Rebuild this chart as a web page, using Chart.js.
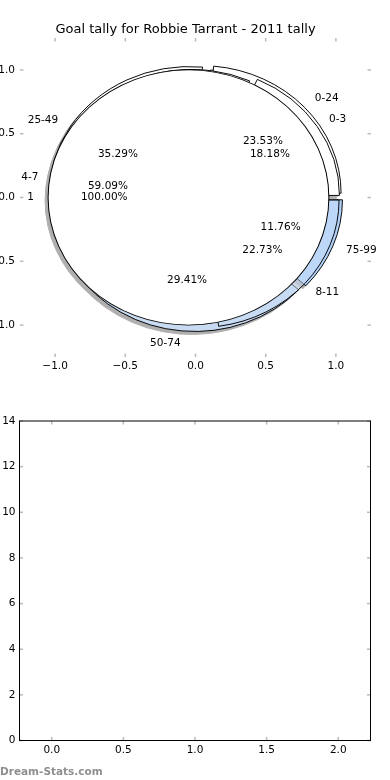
<!DOCTYPE html>
<html><head><meta charset="utf-8">
<script src="https://cdn.jsdelivr.net/npm/chart.js@4.4.0/dist/chart.umd.min.js"></script>
<style>
html,body{margin:0;padding:0;background:#fff;}
#page{position:relative;width:390px;height:780px;overflow:hidden;background:#fff;}
#pieLayer{position:absolute;left:0;top:0;width:390px;height:400px;z-index:1;filter:drop-shadow(-3px 3px 0 rgba(77,77,77,0.45));}
#pieTop{position:absolute;left:0;top:0;width:390px;height:400px;z-index:2;}
#bottom{position:absolute;left:0;top:400px;width:390px;height:380px;}
#wm{position:absolute;left:0;top:765px;font:bold 10.5px 'DejaVu Sans';line-height:12px;color:#8f8f8f;white-space:nowrap;}
</style></head><body>
<div id="page">
  <div id="pieLayer"></div>
  <canvas id="pieTop" width="390" height="400"></canvas>
  <canvas id="bottom" width="390" height="380"></canvas>
  <div id="wm">Dream-Stats.com</div>
</div>
<script>
// ---- data ----
const titleText = 'Goal tally for Robbie Tarrant - 2011 tally';
const rangeLabels = ['0-24', '25-49', '50-74', '75-99'];
const rangeGoals = [4, 6, 5, 2];
const smallLabels = ['0-3', '4-7', '8-11'];
const smallGoals = [4, 13, 5];
const allLabels = ['1'];
const allGoals = [1];
const pieTicks = [-1, -0.5, 0, 0.5, 1];
const barXTicks = [0, 0.5, 1, 1.5, 2];
const barYTicks = [0, 2, 4, 6, 8, 10, 12, 14];
const barValues = [];

// ---- styles ----
const pieStyles = [
  {labels: rangeLabels, values: rangeGoals, colors: ['#ffffff', '#ffffff', '#c8dbf3', '#b3d3fb'], explode: 0.05},
  {labels: smallLabels, values: smallGoals, colors: ['#ffffff', '#ffffff', 'rgba(200,220,246,0.5)'], explode: 0.03},
  {labels: allLabels, values: allGoals, colors: ['#ffffff'], explode: 0.05}
];

Chart.defaults.font.family = "'DejaVu Sans', sans-serif";
Chart.defaults.color = '#000';

const fmt1 = v => (v < 0 ? '\u2212' : '') + Math.abs(v).toFixed(1);

function midAngles(values) {
  const total = values.reduce((a, b) => a + b, 0);
  let acc = 0;
  return values.map(v => {
    const t1 = acc / total * 2 * Math.PI; acc += v;
    const t2 = acc / total * 2 * Math.PI;
    return (t1 + t2) / 2;
  });
}

const tickMarks = {
  id: 'tickMarks',
  afterDraw(chart, args, opts) {
    const {ctx, chartArea: a, scales: {x, y}} = chart;
    const L = 3.5;
    ctx.save();
    ctx.strokeStyle = '#bbbbbb';
    ctx.lineWidth = 1.5;
    const seg = (x1, y1, x2, y2) => { ctx.beginPath(); ctx.moveTo(x1, y1); ctx.lineTo(x2, y2); ctx.stroke(); };
    x.ticks.forEach(t => { const p = x.getPixelForValue(t.value); seg(p, a.top, p, a.top + L); seg(p, a.bottom, p, a.bottom - L); });
    y.ticks.forEach(t => { const p = y.getPixelForValue(t.value); seg(a.left, p, a.left + L, p); seg(a.right, p, a.right - L, p); });
    if (opts && opts.frame) {
      ctx.strokeStyle = '#000'; ctx.lineWidth = 1;
      ctx.strokeRect(a.left, a.top, a.right - a.left, a.bottom - a.top);
    }
    ctx.restore();
  }
};

const pieLabels = {
  id: 'pieLabels',
  afterDraw(chart) {
    const {ctx, scales: {x, y}} = chart;
    ctx.save();
    ctx.fillStyle = '#000';
    ctx.font = "10.5px 'DejaVu Sans'";
    ctx.textBaseline = 'middle';
    pieStyles.forEach(p => {
      const total = p.values.reduce((a, b) => a + b, 0);
      const mids = midAngles(p.values);
      p.values.forEach((v, i) => {
        const c = Math.cos(mids[i]), s = Math.sin(mids[i]);
        const lr = p.explode + 1.1, pr = p.explode + 0.6;
        ctx.textAlign = lr * c > 0 ? 'left' : 'right';
        ctx.fillText(p.labels[i], x.getPixelForValue(lr * c), y.getPixelForValue(lr * s));
        ctx.textAlign = 'center';
        ctx.fillText((v / total * 100).toFixed(2) + '%', x.getPixelForValue(pr * c), y.getPixelForValue(pr * s));
      });
    });
    ctx.restore();
  }
};

const topChart = new Chart(document.getElementById('pieTop'), {
  type: 'scatter',
  data: {datasets: [{data: []}]},
  options: {
    responsive: false, animation: false, events: [],
    layout: {padding: {left: 0, right: 19, top: 0, bottom: 0}},
    plugins: {
      legend: {display: false}, tooltip: {enabled: false},
      title: {display: true, text: titleText, color: '#000', font: {size: 13, weight: 'normal'}, padding: {top: 22, bottom: 0.4}},
      tickMarks: {frame: false}
    },
    scales: {
      x: {type: 'linear', min: -1.25, max: 1.25,
          afterBuildTicks: s => { s.ticks = pieTicks.map(v => ({value: v})); },
          afterFit: s => { s.height = 43; },
          grid: {display: false, drawTicks: false}, border: {display: false},
          ticks: {callback: fmt1, padding: 3, font: {size: 10.5}, maxRotation: 0, autoSkip: false}},
      y: {type: 'linear', min: -1.25, max: 1.25,
          afterBuildTicks: s => { s.ticks = pieTicks.map(v => ({value: v})); },
          afterFit: s => { s.width = 20; },
          grid: {display: false, drawTicks: false}, border: {display: false},
          ticks: {callback: fmt1, padding: 5, font: {size: 10.5}, autoSkip: false}}
    }
  },
  plugins: [tickMarks, pieLabels]
});

// ---- pies: each wedge drawn by a Chart.js pie, exploded along its mid-angle ----
const xs = topChart.scales.x, ys = topChart.scales.y;
const cx = xs.getPixelForValue(0), cy = ys.getPixelForValue(0);
const R = xs.getPixelForValue(1) - cx;
const Ry = cy - ys.getPixelForValue(1);
const layer = document.getElementById('pieLayer');
const S = Math.ceil(2 * R + 40);

// squashes each pie vertically so one data unit matches the axes (matplotlib's unequal aspect)
const ellipse = {
  id: 'ellipse',
  beforeDatasetsDraw(chart, args, o) {
    const c = chart.ctx, a = chart.chartArea;
    const mid = (a.top + a.bottom) / 2;
    c.save();
    c.translate(o.fx, o.fy + mid);
    c.scale(1, o.k);
    c.translate(0, -mid);
  },
  afterDatasetsDraw(chart) { chart.ctx.restore(); }
};

function addCanvas(px, py) {
  const left = Math.floor(px - S / 2), top = Math.floor(py - S / 2);
  const cv = document.createElement('canvas');
  cv.style.cssText = 'position:absolute;left:' + left + 'px;top:' + top + 'px;width:' + S + 'px;height:' + S + 'px;';
  cv.width = S; cv.height = S;
  layer.appendChild(cv);
  return {cv, fx: px - S / 2 - left, fy: py - S / 2 - top};
}
function pieOpts(r, extra, pos) {
  return Object.assign({
    responsive: false, animation: false, events: [], rotation: 90, radius: r,
    layout: {padding: 0},
    plugins: {legend: {display: false}, tooltip: {enabled: false}, title: {display: false},
              ellipse: {k: Ry / R, fx: pos.fx, fy: pos.fy}}
  }, extra || {});
}

pieStyles.forEach(p => {
  const mids = midAngles(p.values);
  const total = p.values.reduce((a, b) => a + b, 0);
  const n = p.values.length;
  const order = p.values.map((_, k) => n - 1 - k);
  p.values.forEach((v, i) => {
    const px = cx + p.explode * R * Math.cos(mids[i]);
    const py = cy - p.explode * Ry * Math.sin(mids[i]);
    const full = v === total;
    const pos = addCanvas(px, py);
    new Chart(pos.cv, {
      type: 'pie',
      data: {
        labels: order.map(k => p.labels[k]),
        datasets: [{
          data: order.map(k => p.values[k]),
          backgroundColor: order.map(k => k === i ? p.colors[k] : 'rgba(0,0,0,0)'),
          borderColor: order.map(k => k === i ? '#000' : 'rgba(0,0,0,0)'),
          borderWidth: full ? 0 : 1, radius: R, rotation: 90
        }]
      },
      options: pieOpts(R, null, pos),
      plugins: [ellipse]
    });
    if (full) {
      // full-circle wedge: outline drawn as a thin doughnut ring (no radial seam)
      const ringCut = ((R - 0.5) / (R + 0.5) * 100) + '%';
      const pos2 = addCanvas(px, py);
      new Chart(pos2.cv, {
        type: 'doughnut',
        data: {labels: [p.labels[i]], datasets: [{data: [v], backgroundColor: '#000', borderWidth: 0, radius: R + 0.5, cutout: ringCut}]},
        options: pieOpts(R + 0.5, {cutout: ringCut}, pos2),
        plugins: [ellipse]
      });
    }
  });
});

// ---- bottom (empty) axes ----
new Chart(document.getElementById('bottom'), {
  type: 'scatter',
  data: {datasets: [{data: barValues}]},
  options: {
    responsive: false, animation: false, events: [],
    layout: {padding: {left: 0, right: 19.5, top: 21, bottom: 0}},
    plugins: {legend: {display: false}, tooltip: {enabled: false}, tickMarks: {frame: true}},
    scales: {
      x: {type: 'linear', min: -0.225, max: 2.225,
          afterBuildTicks: s => { s.ticks = barXTicks.map(v => ({value: v})); },
          afterFit: s => { s.height = 39.5; },
          grid: {display: false, drawTicks: false}, border: {display: false},
          ticks: {callback: v => v.toFixed(1), padding: 3, font: {size: 10.5}, maxRotation: 0, autoSkip: false}},
      y: {type: 'linear', min: 0, max: 14,
          afterBuildTicks: s => { s.ticks = barYTicks.map(v => ({value: v})); },
          afterFit: s => { s.width = 19.5; },
          grid: {display: false, drawTicks: false}, border: {display: false},
          ticks: {callback: v => String(v), padding: 4, font: {size: 10.5}, autoSkip: false}}
    }
  },
  plugins: [tickMarks]
});
</script>
</body></html>
